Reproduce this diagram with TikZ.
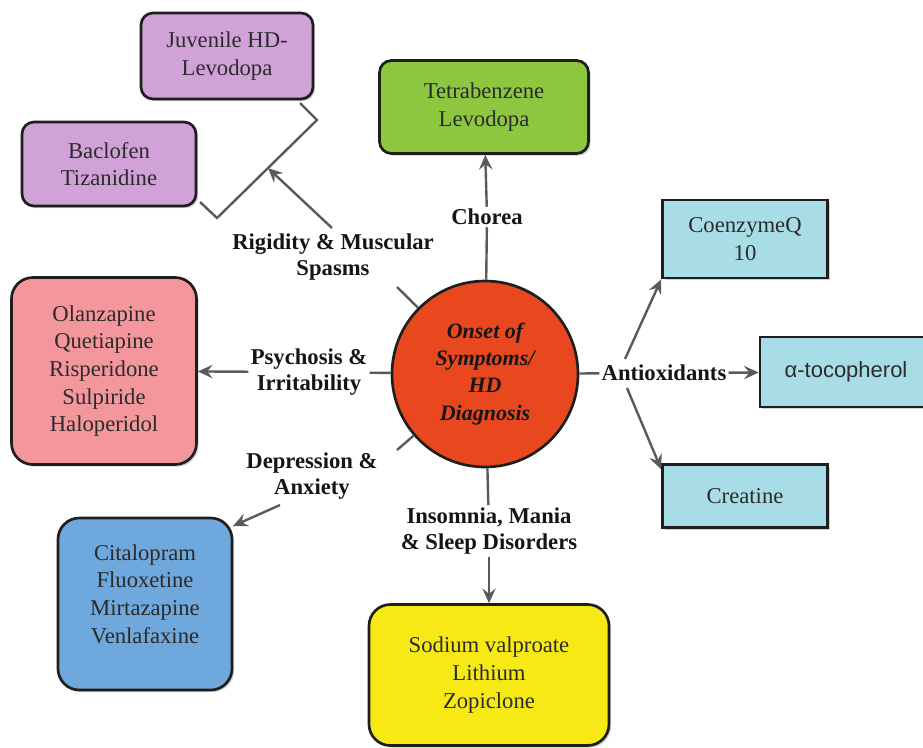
\documentclass[tikz,border=0pt]{standalone}
\usepackage{fontspec}
\setmainfont{Liberation Serif}
\newfontfamily\sansfam{Liberation Sans}
\usetikzlibrary{arrows.meta,shadows,calc}
\definecolor{boxline}{HTML}{1E1E1E}
\definecolor{txt}{HTML}{2B2B2B}
\definecolor{labtxt}{HTML}{151515}
\definecolor{conn}{HTML}{5A5A5A}
\definecolor{purp}{HTML}{D0A2D8}
\definecolor{grn}{HTML}{8DC63F}
\definecolor{pnk}{HTML}{F4979C}
\definecolor{blu}{HTML}{6FA8DC}
\definecolor{yel}{HTML}{F6E916}
\definecolor{cyn}{HTML}{A8DDE7}
\definecolor{org}{HTML}{E9481F}
\begin{document}
\begin{tikzpicture}[x=0.75pt,y=-0.75pt,
  box/.style={draw=boxline, line width=2pt, align=center, text=txt,
    font=\fontsize{17}{20.7}\selectfont, inner sep=0pt,
    drop shadow={shadow xshift=1.6pt, shadow yshift=-1.6pt, opacity=0.35}},
  rbox/.style={box, rounded corners=9pt},
  rrbox/.style={box, rounded corners=16pt},
  lab/.style={font=\bfseries\fontsize{17}{20}\selectfont, align=center, inner sep=1.5pt, text=labtxt},
  con/.style={draw=conn, line width=1.8pt},
  arr/.style={con, -{Stealth[length=11pt,width=10pt,inset=4pt]}},
]
\useasboundingbox (0,0) rectangle (923,747);
\clip (0,0) rectangle (923,747);

% boxes
\node[rbox, fill=purp, minimum width={172*0.75pt}, minimum height={86*0.75pt}] (juv) at (227,56) {Juvenile HD-\\Levodopa};
\node[rbox, fill=purp, minimum width={174*0.75pt}, minimum height={84*0.75pt}] (bac) at (109,164) {Baclofen\\Tizanidine};
\node[rbox, fill=grn, minimum width={209*0.75pt}, minimum height={93*0.75pt}] (grn) at (484,107) {Tetrabenzene\\Levodopa};
\node[rrbox, fill=pnk, minimum width={185*0.75pt}, minimum height={187*0.75pt}] (pnk) at (104,371) {Olanzapine\\Quetiapine\\Risperidone\\Sulpiride\\Haloperidol};
\node[rrbox, fill=blu, minimum width={174*0.75pt}, minimum height={172*0.75pt}] (blu) at (145,604) {Citalopram\\Fluoxetine\\Mirtazapine\\Venlafaxine\\[-5.5pt]};
\node[rrbox, fill=yel, minimum width={240*0.75pt}, minimum height={141*0.75pt}] (yel) at (489,675) {Sodium valproate\\Lithium\\Zopiclone};
\node[box, fill=cyn, minimum width={165*0.75pt}, minimum height={78*0.75pt}] (coq) at (745,239) {CoenzymeQ\\10};
\node[box, fill=cyn, minimum width={172*0.75pt}, minimum height={70*0.75pt}, font=\sansfam\fontsize{16.5}{20}\selectfont] (toc) at (846,372) {α-tocopherol};
\node[box, fill=cyn, minimum width={165*0.75pt}, minimum height={63*0.75pt}] (cre) at (745,496) {Creatine};

% centre
\node[circle, draw=boxline, line width=2pt, fill=org, minimum size={186*0.75pt}, inner sep=0pt, align=center,
  font=\bfseries\itshape\fontsize{16.5}{20.3}\selectfont, text=labtxt] (circ) at (485,374) {Onset of\\Symptoms/\\HD\\Diagnosis};

% labels
\node[lab] (cho) at (487,217) {Chorea};
\node[lab] (rig) at (333,257) {Rigidity \& Muscular\\Spasms};
\node[lab] (psy) at (309,372) {Psychosis \&\\Irritability};
\node[lab] (dep) at (312,476) {Depression \&\\Anxiety};
\node[lab] (ins) at (489,531) {Insomnia, Mania\\\& Sleep Disorders};
\node[lab] (ant) at (664,373) {Antioxidants};

% coordinates
\coordinate (b1) at (300,103);
\coordinate (b2) at (317,120);
\coordinate (b3) at (217,218);
\coordinate (b4) at (200,202);
\coordinate (bm) at ($(b2)!0.49!(b3)$);
\coordinate (rs) at (332,228);
\coordinate (re) at (397,287);
\coordinate (de) at (397,450);
\coordinate (ds) at (280,505);
\coordinate (dt) at (233,526);
\coordinate (a1) at (625,359);
\coordinate (a2) at (627,388);

% connectors
\draw[con] (b1) -- (b2) -- (b3) -- (b4);
\draw[arr] (rs) -- (bm);
\draw[con] (circ) -- (re);
\draw[con] (circ) -- (cho);
\draw[arr] (cho) -- (grn);
\draw[con] (circ) -- (psy);
\draw[arr] (psy) -- (pnk);
\draw[con] (circ) -- (de);
\draw[arr] (ds) -- (dt);
\draw[con] (circ) -- (ins);
\draw[arr] (ins) -- (yel);
\draw[con] (circ) -- (ant);
\draw[arr] (ant) -- (toc);
\draw[arr] (a1) -- (coq.south west);
\draw[arr] (a2) -- ($(cre.north west)+(0,6)$);
\end{tikzpicture}
\end{document}
